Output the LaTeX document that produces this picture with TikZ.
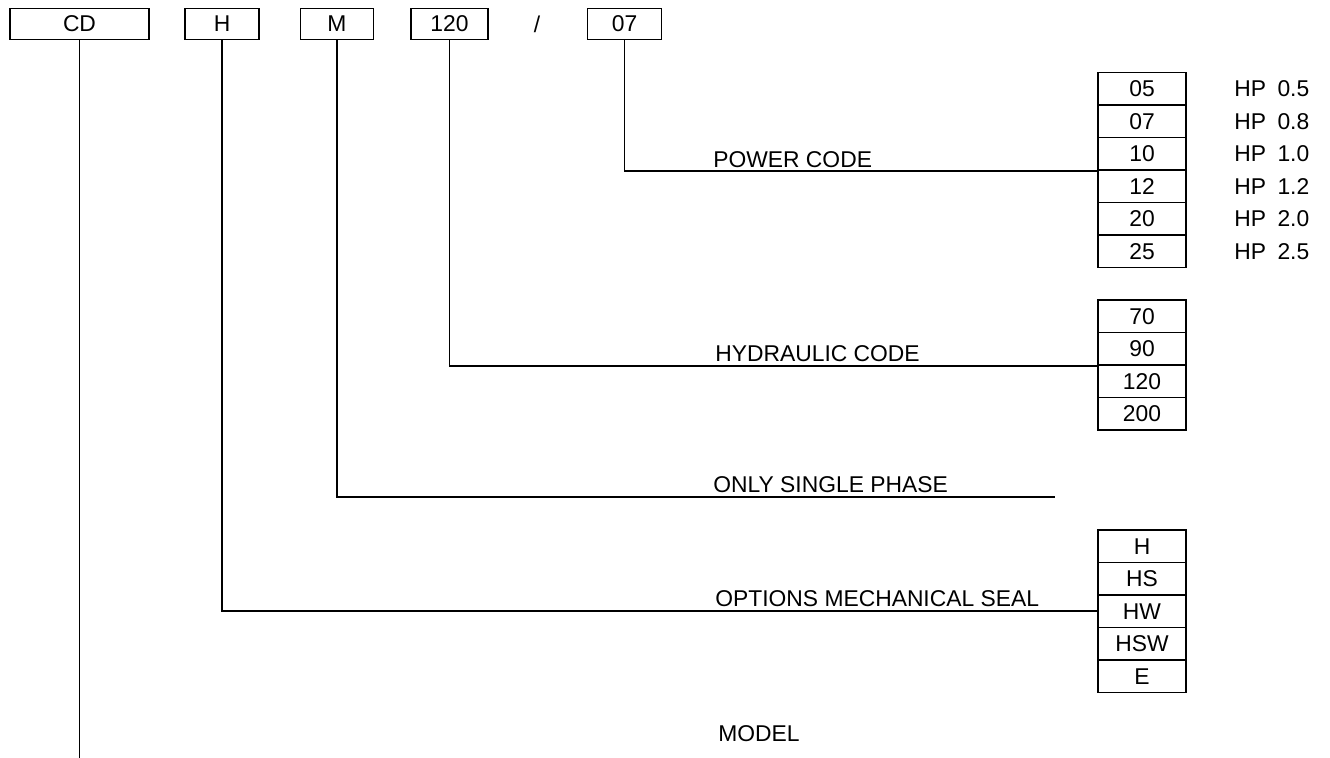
\documentclass[tikz,border=0pt]{standalone}
\usepackage{fontspec}
\setmainfont{Liberation Sans}
\usetikzlibrary{calc}

\begin{document}
\begin{tikzpicture}[
	every node/.style={font=\fontsize{13}{15}\selectfont},
	codebox/.style={draw, line width=1.1pt, minimum height=0.62cm, inner sep=0pt},
	cell/.style={draw, line width=1.1pt, minimum width=1.76cm, minimum height=0.65cm, inner sep=0pt},
	lead/.style={line width=1.1pt}
	]
	\useasboundingbox (0,0) rectangle (26.6,15.16);
	
	%code boxes on top
	\node[codebox, minimum width=2.78cm] (cd) at (1.59,14.68) {CD};
	\node[codebox, minimum width=1.48cm] (hh) at (4.44,14.68) {H};
	\node[codebox, minimum width=1.46cm] (mm) at (6.74,14.68) {M};
	\node[codebox, minimum width=1.54cm] (hyd) at (8.99,14.68) {120};
	\node (slash) at (10.74,14.68) {/};
	\node[codebox, minimum width=1.48cm] (pow) at (12.49,14.68) {07};
	
	%power code table
	\foreach \code/\hp [count=\i] in {05/0.5, 07/0.8, 10/1.0, 12/1.2, 20/2.0, 25/2.5} {
		\node[cell] (p\i) at (22.84,13.385-\i*0.65+0.65) {\code};
		\node[anchor=west, inner sep=0pt] (hp\i) at (24.68,13.385-\i*0.65+0.65) {HP\enspace\hp};
	}
	
	%hydraulic code table
	\foreach \code [count=\i] in {70, 90, 120, 200}
		\node[cell] (g\i) at (22.84,8.835-\i*0.65+0.65) {\code};
	
	%seal table
	\foreach \code [count=\i] in {H, HS, HW, HSW, E}
		\node[cell] (s\i) at (22.84,4.235-\i*0.65+0.65) {\code};
	
	%free ends
	\coordinate (phaseend) at (21.1,5.22);
	\coordinate (modelend) at (1.59,0);
	
	%leads
	\draw[lead] (pow.south) |- (p3.south west);	%power code
	\draw[lead] (hyd.south) |- (g2.south west);	%hydraulic code
	\draw[lead] (mm.south) |- (phaseend);		%single phase
	\draw[lead] (hh.south) |- (s3.west);		%mechanical seal
	\draw[lead] (cd.south) -- (modelend);		%model
	
	%labels
	\node[anchor=base west, inner sep=0pt] (lpow) at (14.26,11.80) {POWER CODE};
	\node[anchor=base west, inner sep=0pt] (lhyd) at (14.3,7.93) {HYDRAULIC CODE};
	\node[anchor=base west, inner sep=0pt] (lphase) at (14.26,5.31) {ONLY SINGLE PHASE};
	\node[anchor=base west, inner sep=0pt] (lseal) at (14.3,3.02) {OPTIONS MECHANICAL SEAL};
	\node[anchor=base west, inner sep=0pt] (lmodel) at (14.36,0.32) {MODEL};
\end{tikzpicture}
\end{document}
